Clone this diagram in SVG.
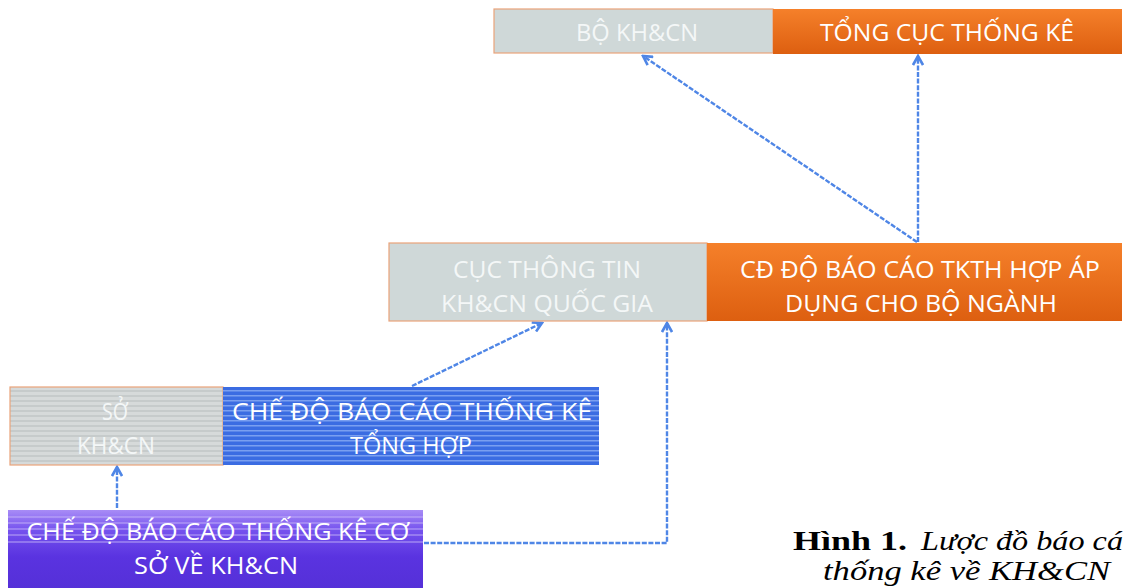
<svg xmlns="http://www.w3.org/2000/svg" width="1127" height="588" viewBox="0 0 1127 588">
<style>
.lbl{font-family:"Open Sans","Noto Sans",sans-serif;font-size:23px;text-anchor:middle;fill:#ffffff}
.lg{fill:#f4f7f7}
.box{stroke:#e9a37a;stroke-width:1.2}
.conn{fill:none;stroke:#4f86e6;stroke-width:2.4;stroke-dasharray:5 1.6}
.cap{font-family:"Liberation Serif","Times New Roman",serif;font-size:27px;fill:#000}
</style>
<defs>
<linearGradient id="org" x1="0" y1="0" x2="0" y2="1">
<stop offset="0" stop-color="#f5802a"/>
<stop offset="1" stop-color="#dd5f10"/>
</linearGradient>
<pattern id="gstripe" width="8" height="5" patternUnits="userSpaceOnUse">
<rect width="8" height="5" fill="#d6dada"/>
<rect width="8" height="2" fill="#c6cbcb"/>
</pattern>
<pattern id="bstripe" width="8" height="5" patternUnits="userSpaceOnUse">
<rect width="8" height="5" fill="#3b6ce2"/>
<rect width="8" height="1.5" fill="#7a9ff0"/>
</pattern>
<linearGradient id="pur" x1="0" y1="0" x2="0" y2="1">
<stop offset="0" stop-color="#a88cf6"/>
<stop offset="0.25" stop-color="#7653ee"/>
<stop offset="0.6" stop-color="#5a33e0"/>
<stop offset="1" stop-color="#5530d8"/>
</linearGradient>
<marker id="arr" markerWidth="12" markerHeight="12" refX="10" refY="6" orient="auto" markerUnits="userSpaceOnUse">
<path d="M1,1 L10,6 L1,11" fill="none" stroke="#4f86e6" stroke-width="2.6"/>
</marker>
</defs>

<g id="connectors">
<line class="conn" x1="917" y1="242" x2="643" y2="56" marker-end="url(#arr)"/>
<line class="conn" x1="918" y1="242" x2="918" y2="56" marker-end="url(#arr)"/>
<line class="conn" x1="412" y1="386" x2="542" y2="323" marker-end="url(#arr)"/>
<polyline class="conn" points="424,543 667,543 667,323" marker-end="url(#arr)"/>
<line class="conn" x1="117" y1="508" x2="117" y2="467" marker-end="url(#arr)"/>
</g>

<g id="bo-khcn">
<rect class="box" x="494" y="9" width="279" height="44" fill="#cfd8d8"/>
<text class="lbl lg" x="637" y="41" textLength="122" lengthAdjust="spacingAndGlyphs">BỘ KH&amp;CN</text>
</g>
<g id="tong-cuc">
<rect x="773" y="9" width="349" height="45" fill="url(#org)"/>
<text class="lbl" x="947" y="41" textLength="254" lengthAdjust="spacingAndGlyphs">TỔNG CỤC THỐNG KÊ</text>
</g>

<g id="cuc-thong-tin">
<rect class="box" x="389" y="243" width="318" height="78" fill="#cfd8d8"/>
<text class="lbl lg" x="547" y="278" textLength="188" lengthAdjust="spacingAndGlyphs">CỤC THÔNG TIN</text>
<text class="lbl lg" x="547" y="312" textLength="212" lengthAdjust="spacingAndGlyphs">KH&amp;CN QUỐC GIA</text>
</g>
<g id="cd-bo-nganh">
<rect x="707" y="243" width="415" height="78" fill="url(#org)"/>
<text class="lbl" x="920" y="278" textLength="360" lengthAdjust="spacingAndGlyphs">CĐ ĐỘ BÁO CÁO TKTH HỢP ÁP</text>
<text class="lbl" x="921" y="312" textLength="272" lengthAdjust="spacingAndGlyphs">DỤNG CHO BỘ NGÀNH</text>
</g>

<g id="so-khcn">
<rect class="box" x="10" y="387" width="213" height="78" fill="url(#gstripe)"/>
<text class="lbl lg" x="115" y="420" textLength="26" lengthAdjust="spacingAndGlyphs">SỞ</text>
<text class="lbl lg" x="116" y="454" textLength="78" lengthAdjust="spacingAndGlyphs">KH&amp;CN</text>
</g>
<g id="cd-tong-hop">
<rect x="223" y="387" width="376" height="78" fill="url(#bstripe)"/>
<text class="lbl" x="412" y="420" textLength="360" lengthAdjust="spacingAndGlyphs">CHẾ ĐỘ BÁO CÁO THỐNG KÊ</text>
<text class="lbl" x="411" y="454" textLength="122" lengthAdjust="spacingAndGlyphs">TỔNG HỢP</text>
</g>

<g id="cd-co-so">
<rect x="8" y="510" width="415" height="78" fill="url(#pur)"/>
<g stroke="#c9bafa" stroke-width="1.2" opacity="0.85">
<line x1="8" y1="517" x2="423" y2="517"/>
<line x1="8" y1="523" x2="423" y2="523"/>
<line x1="8" y1="529" x2="423" y2="529"/>
<line x1="8" y1="535" x2="423" y2="535"/>
<line x1="8" y1="542" x2="423" y2="542"/>
</g>
<text class="lbl" x="218" y="540" textLength="383" lengthAdjust="spacingAndGlyphs">CHẾ ĐỘ BÁO CÁO THỐNG KÊ CƠ</text>
<text class="lbl" x="216" y="574" textLength="164" lengthAdjust="spacingAndGlyphs">SỞ VỀ KH&amp;CN</text>
</g>

<g id="caption">
<text class="cap" x="793" y="550" font-weight="bold" textLength="114" lengthAdjust="spacingAndGlyphs">Hình 1.</text>
<text class="cap" x="921" y="550" font-style="italic" textLength="202" lengthAdjust="spacingAndGlyphs">Lược đồ báo cá</text>
<text class="cap" x="823" y="580" font-style="italic" textLength="287" lengthAdjust="spacingAndGlyphs">thống kê về KH&amp;CN</text>
</g>
</svg>
